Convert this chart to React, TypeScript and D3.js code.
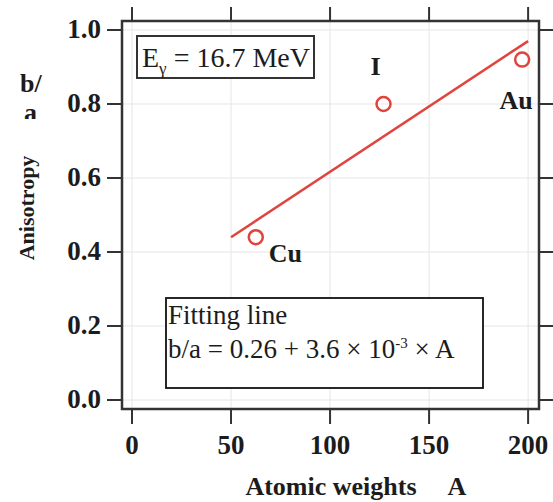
import React from "react";
import * as d3 from "d3";

const elements = ["Cu", "I", "Au"];
const atomicWeights = [62.5, 127, 197];
const anisotropy = [0.44, 0.80, 0.92];
const fitA = [50, 200];
const fitValue = [0.44, 0.97];
const xTicks = [0, 50, 100, 150, 200];
const yTicks = [0.0, 0.2, 0.4, 0.6, 0.8, 1.0];

const W = 553;
const H = 502;
const FONT = "'Liberation Serif', 'Times New Roman', serif";

export default function App() {
  const x = d3.scaleLinear().domain([-5.05, 205.5]).range([122, 539]);
  const y = d3.scaleLinear().domain([-0.0243, 1.0243]).range([409, 21]);
  const [x0, x1] = x.range();
  const [y0, y1] = y.range();
  const line = d3
    .line<number>()
    .x((_, i) => x(fitA[i]))
    .y((d) => y(d));
  const red = "#e0443e";
  const ink = "#1c1c1c";
  const labelOffsets = [
    { dx: 13, dy: 25, anchor: "start" },
    { dx: -8, dy: -29, anchor: "middle" },
    { dx: -6, dy: 49, anchor: "middle" },
  ];
  return (
    <svg
      width={W}
      height={H}
      style={{ position: "absolute", left: 0, top: 0, background: "#fff" }}
      fontFamily={FONT}
    >
      <defs>
        <clipPath id="clipA">
          <rect x={0} y={100} width={80} height={19} />
        </clipPath>
      </defs>
      {/* grid */}
      {xTicks.map((t) => (
        <line key={"gx" + t} x1={x(t)} x2={x(t)} y1={y1} y2={y0} stroke="#e6e6e6" strokeWidth={1} />
      ))}
      {yTicks.map((t) => (
        <line key={"gy" + t} x1={x0} x2={x1} y1={y(t)} y2={y(t)} stroke="#e6e6e6" strokeWidth={1} />
      ))}
      {/* ticks */}
      {xTicks.map((t) => (
        <g key={"tx" + t}>
          <line x1={x(t)} x2={x(t)} y1={y0} y2={y0 + 15} stroke="#333" strokeWidth={2} />
          <line x1={x(t)} x2={x(t)} y1={y1} y2={y1 - 14} stroke="#333" strokeWidth={2} />
          <text
            x={x(t)}
            y={454}
            textAnchor="middle"
            fontWeight="bold"
            fontSize={27}
            fill={ink}
          >
            {t}
          </text>
        </g>
      ))}
      {yTicks.map((t) => (
        <g key={"ty" + t}>
          <line x1={x0 - 15} x2={x0} y1={y(t)} y2={y(t)} stroke="#333" strokeWidth={2} />
          <line x1={x1} x2={x1 + 15} y1={y(t)} y2={y(t)} stroke="#333" strokeWidth={2} />
          <text
            x={101}
            y={y(t) + 8}
            textAnchor="end"
            fontWeight="bold"
            fontSize={27}
            fill={ink}
          >
            {t.toFixed(1)}
          </text>
        </g>
      ))}
      {/* frame */}
      <rect x={x0} y={y1} width={x1 - x0} height={y0 - y1} fill="none" stroke="#333" strokeWidth={2.5} />
      {/* fit line */}
      <path d={line(fitValue) || ""} fill="none" stroke={red} strokeWidth={2.5} />
      {/* points */}
      {atomicWeights.map((a, i) => (
        <circle key={"p" + i} cx={x(a)} cy={y(anisotropy[i])} r={7} fill="none" stroke={red} strokeWidth={2.5} />
      ))}
      {elements.map((el, i) => (
        <text
          key={"l" + el}
          x={x(atomicWeights[i]) + labelOffsets[i].dx}
          y={y(anisotropy[i]) + labelOffsets[i].dy}
          textAnchor={labelOffsets[i].anchor}
          fontWeight="bold"
          fontSize={26}
          fill={ink}
        >
          {el}
        </text>
      ))}
      {/* energy box */}
      <rect x={137} y={36} width={177} height={42} fill="#fff" stroke="#333" strokeWidth={2} />
      <text x={142} y={67} fontSize={28} fill={ink}>
        E
        <tspan fontSize={17} dy={7}>γ</tspan>
        <tspan dy={-7}> = 16.7 MeV</tspan>
      </text>
      {/* fit box */}
      <rect x={166} y={298} width={317} height={90} fill="#fff" stroke="#111" strokeWidth={1.8} />
      <text x={168} y={324} fontSize={27} fill={ink}>
        Fitting line
      </text>
      <text x={168} y={358} fontSize={27} fill={ink}>
        b/a = 0.26 + 3.6 × 10
        <tspan fontSize={15} dy={-10}>-3</tspan>
        <tspan dy={10}> × A</tspan>
      </text>
      {/* axis titles */}
      <text x={331} y={495} textAnchor="middle" fontWeight="bold" fontSize={26} fill={ink}>
        Atomic weights
      </text>
      <text x={457} y={495} textAnchor="middle" fontWeight="bold" fontSize={26} fill={ink}>
        A
      </text>
      <text
        transform="translate(34,208) rotate(-90)"
        textAnchor="middle"
        fontWeight="bold"
        fontSize={22}
        fill={ink}
      >
        Anisotropy
      </text>
      <text x={20} y={92} fontWeight="bold" fontSize={26} fill={ink}>
        b/
      </text>
      <g clipPath="url(#clipA)">
        <text x={24} y={121} fontWeight="bold" fontSize={26} fill={ink}>
          a
        </text>
      </g>
    </svg>
  );
}
